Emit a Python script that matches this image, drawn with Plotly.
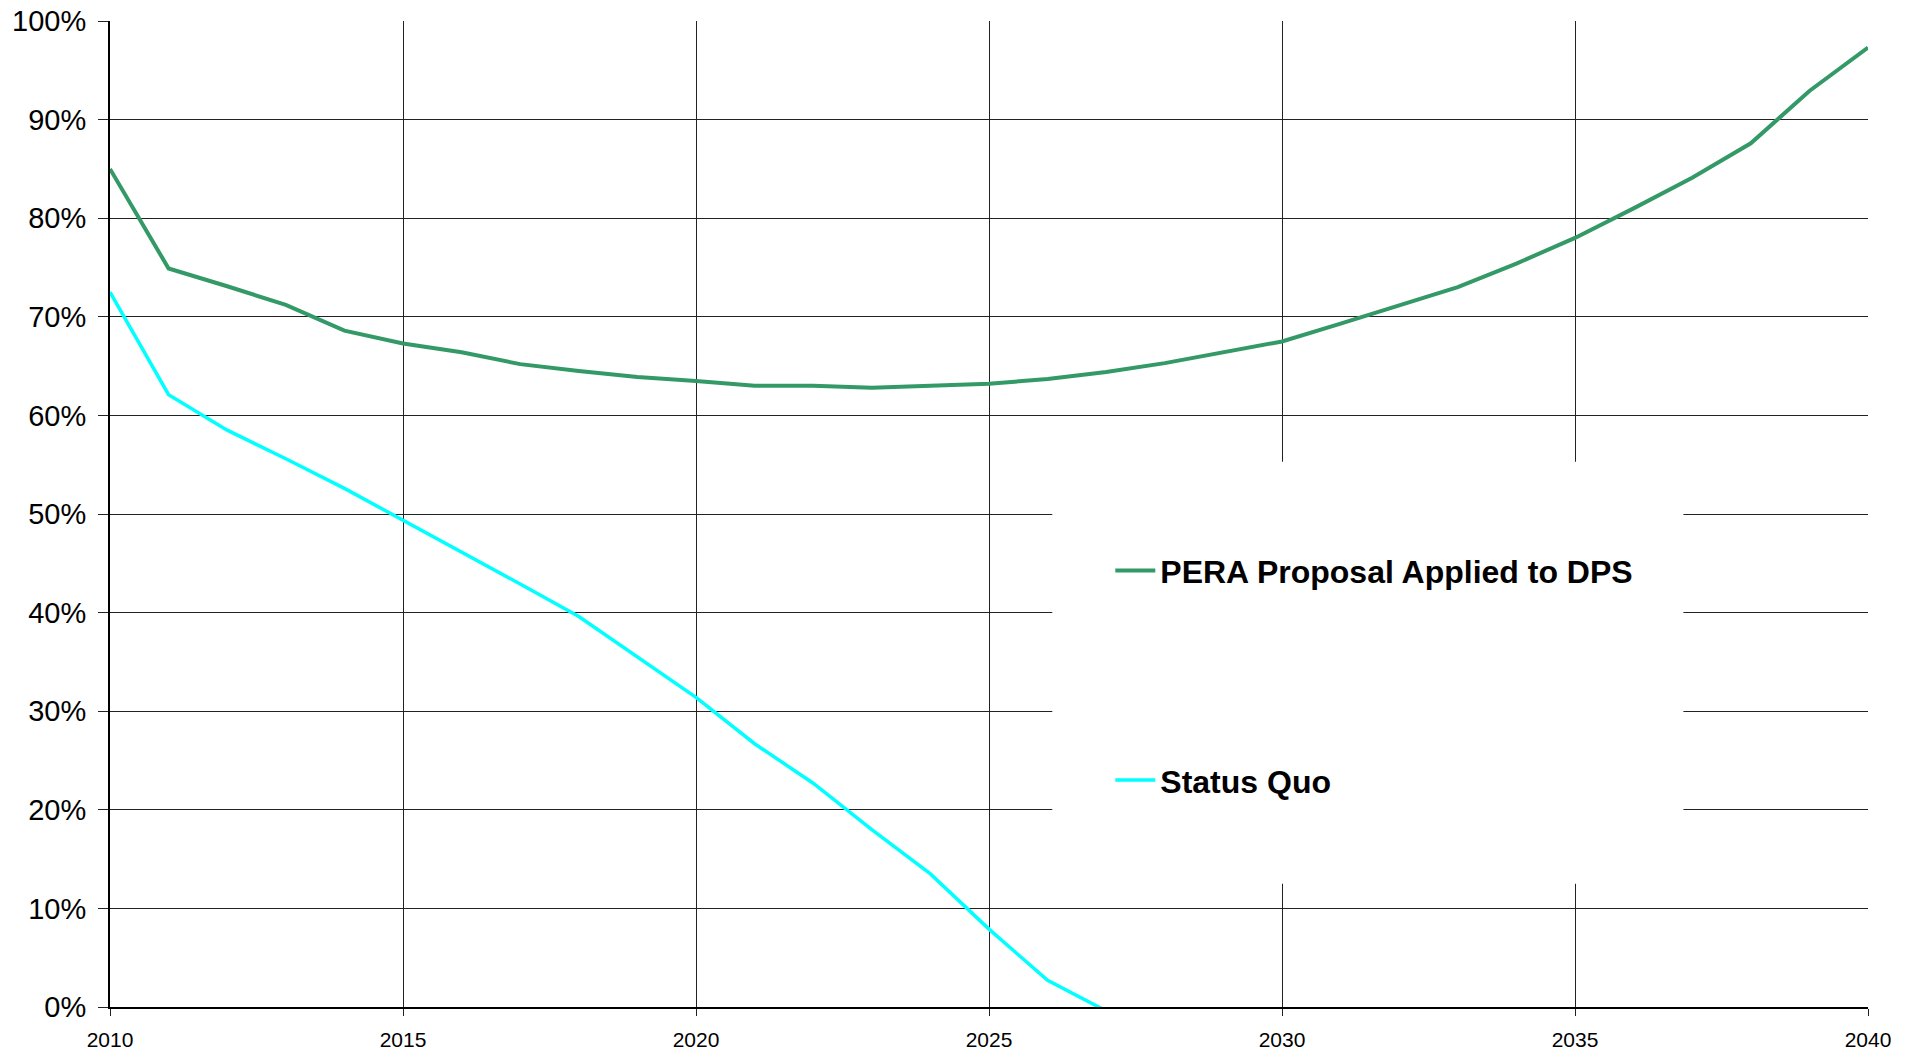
import plotly.graph_objects as go

years = list(range(2010, 2041))
pera_proposal = [85.0, 74.9, 73.1, 71.2, 68.6, 67.3, 66.4, 65.2, 64.5, 63.9,
                 63.5, 63.0, 63.0, 62.8, 63.0, 63.2, 63.7, 64.4, 65.3, 66.4,
                 67.5, 69.3, 71.2, 73.0, 75.4, 78.0, 81.0, 84.1, 87.6, 92.9,
                 97.3]
sq_years = list(range(2010, 2028))
status_quo = [72.5, 62.1, 58.5, 55.6, 52.6, 49.4, 46.2, 42.9, 39.6, 35.5,
              31.4, 26.7, 22.7, 18.0, 13.5, 7.9, 2.7, -0.4]

y_ticks = [0, 10, 20, 30, 40, 50, 60, 70, 80, 90, 100]
x_ticks = [2010, 2015, 2020, 2025, 2030, 2035, 2040]

W, H = 1913, 1055
ml, mr, mt, mb = 110, 45, 21, 48

fig = go.Figure()
fig.add_trace(go.Scatter(
    x=years, y=[v / 100 for v in pera_proposal], mode="lines",
    name="PERA Proposal Applied to DPS", legendgroup="a",
    line=dict(color="#339966", width=4),
))
fig.add_trace(go.Scatter(
    x=sq_years, y=[v / 100 for v in status_quo], mode="lines",
    name="Status Quo", legendgroup="b",
    line=dict(color="#00FFFF", width=3.5),
))

# white box behind the legend (covers grid lines)
fig.add_shape(type="rect", xref="paper", yref="paper",
              x0=0.536, x1=0.895, y0=0.125, y1=0.553,
              fillcolor="white", line=dict(width=0), layer="above")

fig.update_layout(
    width=W, height=H,
    margin=dict(l=ml, r=mr, t=mt, b=mb, pad=0, autoexpand=False),
    paper_bgcolor="white", plot_bgcolor="white",
    font=dict(family="Liberation Sans, Arial, sans-serif", color="black"),
    showlegend=True,
    legend=dict(
        x=0.569, y=0.336, xanchor="left", yanchor="middle",
        bgcolor="rgba(0,0,0,0)", borderwidth=0,
        traceorder="grouped", tracegroupgap=165,
        font=dict(size=32, family="Liberation Sans, Arial, sans-serif",
                  color="black", weight="bold"),
        itemwidth=40,
    ),
    xaxis=dict(
        range=[2010, 2040], tickvals=x_ticks, ticktext=[str(t) for t in x_ticks],
        showgrid=True, gridcolor="#222222", gridwidth=1,
        showline=True, linecolor="black", linewidth=2,
        ticks="outside", ticklen=7, tickcolor="#222222", tickwidth=1,
        tickfont=dict(size=21), zeroline=False, ticklabelstandoff=6,
        automargin=False,
    ),
    yaxis=dict(
        range=[0, 1], tickvals=[t / 100 for t in y_ticks],
        ticktext=[f"{t}%" for t in y_ticks],
        showgrid=True, gridcolor="#222222", gridwidth=1,
        showline=True, linecolor="black", linewidth=2,
        ticks="outside", ticklen=10, tickcolor="#222222", tickwidth=1,
        tickfont=dict(size=29), zeroline=False, ticklabelstandoff=6,
        automargin=False,
    ),
)

fig.write_html("out.html",
               config={"displayModeBar": False},
               post_script="document.body.style.margin='0';"
                           "document.body.style.overflow='hidden';")
